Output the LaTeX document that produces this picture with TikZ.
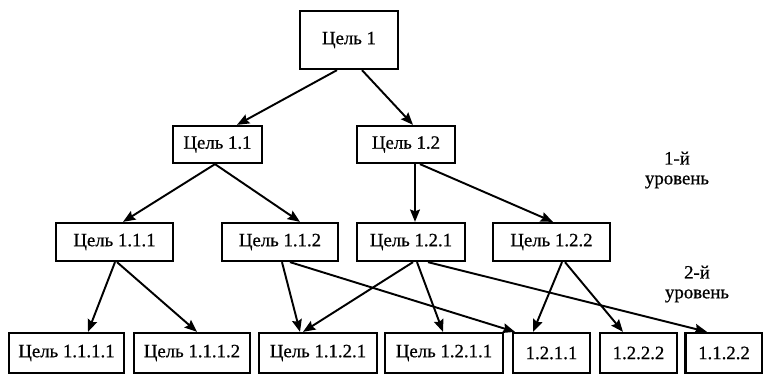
\documentclass[tikz,border=0pt]{standalone}
\usepackage{fontspec}
\setmainfont{Liberation Serif}
\newfontfamily\goalfont{Liberation Serif}[FakeBold=0.7]
\usetikzlibrary{arrows.meta, calc, positioning}
\tikzset {
  goal/.style = {draw, line width=1.3pt, rectangle, inner sep=0pt, minimum height=0.76cm, text centered, font=\goalfont\fontsize{10.7}{13}\selectfont},
  line/.style = {->, line width=1.1pt, color=black, >={Stealth[length=7pt, width=5.6pt, inset=1pt]}},
  level/.style = {align=center, font=\goalfont\fontsize{10.7}{11.3}\selectfont}
}

\begin{document}
\begin{tikzpicture}[x=0.02cm, y=-0.02cm]
    \useasboundingbox (0,0) rectangle (763,374);

    % top goal and first level
    \node[goal, minimum width=1.96cm, minimum height=1.16cm] (g1) at (349,40) {Цель 1};
    \node[goal, minimum width=1.78cm, minimum height=0.74cm] (g11) at (217.5,144.5) {Цель 1.1};
    \node[goal, minimum width=1.96cm, minimum height=0.74cm] (g12) at (406,144.5) {Цель 1.2};

    % second level
    \node[goal, minimum width=2.34cm] (g111) at (114.5,242) {Цель 1.1.1};
    \node[goal, minimum width=2.32cm] (g112) at (280,242) {Цель 1.1.2};
    \node[goal, minimum width=2.16cm] (g121) at (411,242) {Цель 1.2.1};
    \node[goal, minimum width=2.34cm] (g122) at (551.5,242) {Цель 1.2.2};

    % bottom row
    \node[goal, minimum width=2.3cm, minimum height=0.8cm] (g1111) at (66.5,353) {Цель 1.1.1.1};
    \node[goal, minimum width=2.32cm, minimum height=0.8cm] (g1112) at (192,353) {Цель 1.1.1.2};
    \node[goal, minimum width=2.36cm, minimum height=0.8cm] (g1121) at (318,353) {Цель 1.1.2.1};
    \node[goal, minimum width=2.36cm, minimum height=0.8cm] (g1211) at (444,353) {Цель 1.2.1.1};
    \node[goal, minimum width=1.54cm, minimum height=0.8cm] (n1211) at (551.5,353) {1.2.1.1};
    \node[goal, minimum width=1.54cm, minimum height=0.8cm] (n1222) at (638.5,353) {1.2.2.2};
    \node[goal, minimum width=1.54cm, minimum height=0.8cm] (n1122) at (724,353) {1.1.2.2};

    % level captions
    \node[level] (lev1) at (677,170) {1-й\\уровень};
    \node[level] (lev2) at (697,284) {2-й\\уровень};

    \draw[line] ($(g1.south)+(-12,0)$) -- ($(g11.north)+(19.5,0)$);
    \draw[line] ($(g1.south)+(13,0)$) -- ($(g12.north)+(7,0)$);
    \draw[line] ($(g11.south)+(-2.5,0)$) -- ($(g111.north)+(8.5,0)$);
    \draw[line] ($(g11.south)+(-2.5,0)$) -- ($(g112.north)+(20,0)$);
    \draw[line] ($(g12.south)+(9,0)$) -- ($(g121.north)+(4,0)$);
    \draw[line] ($(g12.south)+(14,0)$) -- ($(g122.north)+(1.5,0)$);

    \draw[line] ($(g111.south)+(0.5,0)$) -- ($(g1111.north)+(21.5,0)$);
    \draw[line] ($(g111.south)+(2.5,0)$) -- ($(g1112.north)+(5,0)$);
    \draw[line] ($(g112.south)+(2,0)$) -- ($(g1121.north)+(-18,0)$);
    \draw[line] ($(g112.south)+(10,0)$) -- ($(n1211.north)+(-36.5,0)$);
    \draw[line] ($(g121.south)+(2,0)$) -- ($(g1121.north)+(-15,0)$);
    \draw[line] ($(g121.south)+(6,0)$) -- ($(g1211.north)+(-1,0)$);
    \draw[line] ($(g121.south)+(17,0)$) -- ($(n1122.north)+(-17,0)$);
    \draw[line] ($(g122.south)+(10.5,0)$) -- ($(n1211.north)+(-18.5,0)$);
    \draw[line] ($(g122.south)+(13.5,0)$) -- ($(n1222.north)+(-15.5,0)$);
\end{tikzpicture}
\end{document}
